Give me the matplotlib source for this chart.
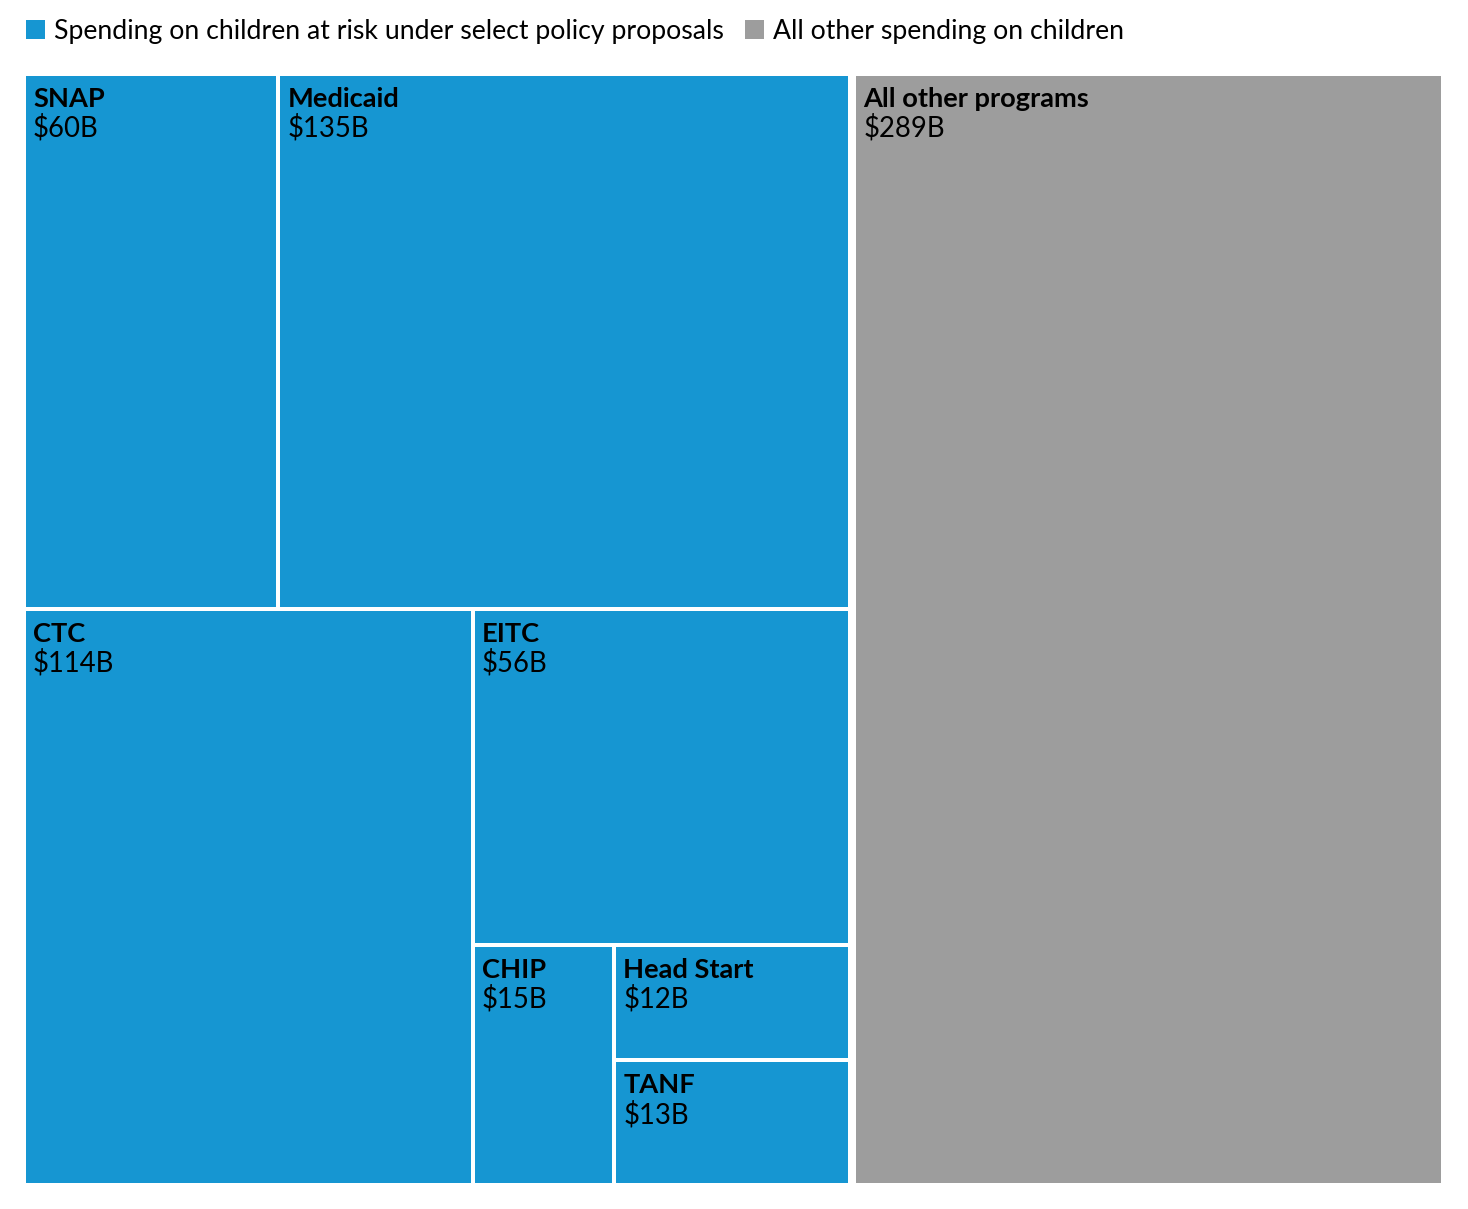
import matplotlib
matplotlib.use('Agg')
import matplotlib.pyplot as plt
from matplotlib.patches import Rectangle

W, H = 1468, 1209

# data
group_names = ['Spending on children at risk under select policy proposals',
               'All other spending on children']
group_colors = ['#1696d2', '#9d9d9d']
at_risk_programs = ['SNAP', 'Medicaid', 'CTC', 'EITC', 'CHIP', 'Head Start', 'TANF']
at_risk_values = [60, 135, 114, 56, 15, 12, 13]
other_programs = ['All other programs']
other_values = [289]


def squarify(values, x0, y0, x1, y1):
  # d3 treemapSquarify with ratio 1, keeping the data order
  rects = []
  i0 = 0
  n = len(values)
  total = float(sum(values))
  while i0 < n:
    dx, dy = x1 - x0, y1 - y0
    i1 = i0 + 1
    s = values[i0]
    vmin = vmax = s
    alpha = max(dy / dx, dx / dy) / total
    beta = s * s * alpha
    best = max(vmax / beta, beta / vmin)
    while i1 < n:
      v = values[i1]
      s2 = s + v
      beta = s2 * s2 * alpha
      r = max(max(vmax, v) / beta, beta / min(vmin, v))
      if r > best:
        break
      s, best = s2, r
      vmin, vmax = min(vmin, v), max(vmax, v)
      i1 += 1
    row = values[i0:i1]
    if dx < dy:
      # horizontal row across the width
      h = dy * s / total
      cx = x0
      for v in row:
        w = dx * v / s
        rects.append((cx, y0, cx + w, y0 + h))
        cx += w
      y0 += h
    else:
      w = dx * s / total
      cy = y0
      for v in row:
        h = dy * v / s
        rects.append((x0, cy, x0 + w, cy + h))
        cy += h
      x0 += w
    total -= s
    i0 = i1
  return rects


def padded(values, rect, pad):
  x0, y0, x1, y1 = rect
  p = pad / 2.0
  out = squarify(values, x0 - p, y0 - p, x1 + p, y1 + p)
  return [(a + p, b + p, c - p, d - p) for a, b, c, d in out]


def main():
  plt.rcParams['font.family'] = ['Lato', 'DejaVu Sans']
  fig = plt.figure(figsize=(W / 100.0, H / 100.0), dpi=100)
  ax = fig.add_axes([0, 0, 1, 1])
  ax.set_xlim(0, W)
  ax.set_ylim(H, 0)
  ax.axis('off')

  groups = [(at_risk_programs, at_risk_values), (other_programs, other_values)]
  group_rects = padded([sum(g[1]) for g in groups], (26, 76, 1441, 1183), 8)
  for (names, vals), grect, color in zip(groups, group_rects, group_colors):
    for name, val, (x0, y0, x1, y1) in zip(names, vals, padded(vals, grect, 4)):
      ax.add_patch(Rectangle((x0, y0), x1 - x0, y1 - y0, facecolor=color,
                             edgecolor='none'))
      ax.text(x0 + 7, y0 + 31, name, fontsize=19.6, fontweight='bold',
              color='#000000', va='baseline', ha='left')
      ax.text(x0 + 7, y0 + 61, '$%dB' % val, fontsize=19.8,
              color='#000000', va='baseline', ha='left')

  # legend across the top
  renderer = fig.canvas.get_renderer()
  lx = 26
  for name, color in zip(group_names, group_colors):
    ax.add_patch(Rectangle((lx, 20), 19, 19, facecolor=color, edgecolor='none'))
    t = ax.text(lx + 28, 39, name, fontsize=19.2, color='#000000',
                va='baseline', ha='left')
    bb = t.get_window_extent(renderer)
    lx = bb.x1 + 21

  fig.savefig('out.png', dpi=100)


if __name__ == '__main__':
  main()
